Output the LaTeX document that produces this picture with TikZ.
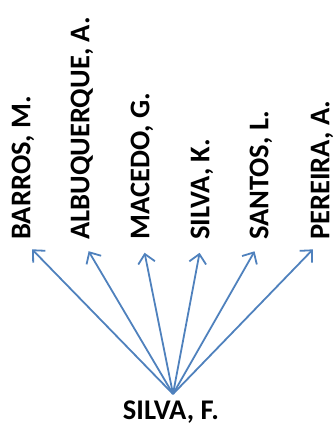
\documentclass[tikz,border=0pt]{standalone}
\usepackage{fontspec}
\setmainfont{Carlito}
\usetikzlibrary{arrows.meta}
\definecolor{linkblue}{RGB}{79,129,189}
\begin{document}
\begin{tikzpicture}[x=1pt,y=-1pt,
  author/.style={font=\bfseries\fontsize{28.5}{32}\selectfont, inner sep=0pt, text=black},
  coauthor/.style={author, rotate=90, anchor=west},
  link/.style={draw=linkblue, line width=1.8pt,
    -{Straight Barb[length=9pt,width=17pt,line width=1.8pt]}, shorten >=13pt}]
  \useasboundingbox (0,0) rectangle (335,434);
  % co-authors, read bottom to top
  \node[coauthor] (barros) at (23,240) {BARROS, M.};
  \node[coauthor] (albuq)  at (82,240) {ALBUQUERQUE, A.};
  \node[coauthor] (macedo) at (142,240) {MACEDO, G.};
  \node[coauthor] (silvak) at (202,240) {SILVA, K.};
  \node[coauthor] (santos) at (261,240) {SANTOS, L.};
  \node[coauthor] (pereira) at (322,240) {PEREIRA, A.};
  % central author
  \node[author] (silvaf) at (171,412) {SILVA, F.};
  \coordinate (hub) at (173,394);
  % links from the central author
  \foreach \t in {barros,albuq,macedo,silvak,santos,pereira}
    \draw[link] (hub) -- (\t.west);
\end{tikzpicture}
\end{document}
